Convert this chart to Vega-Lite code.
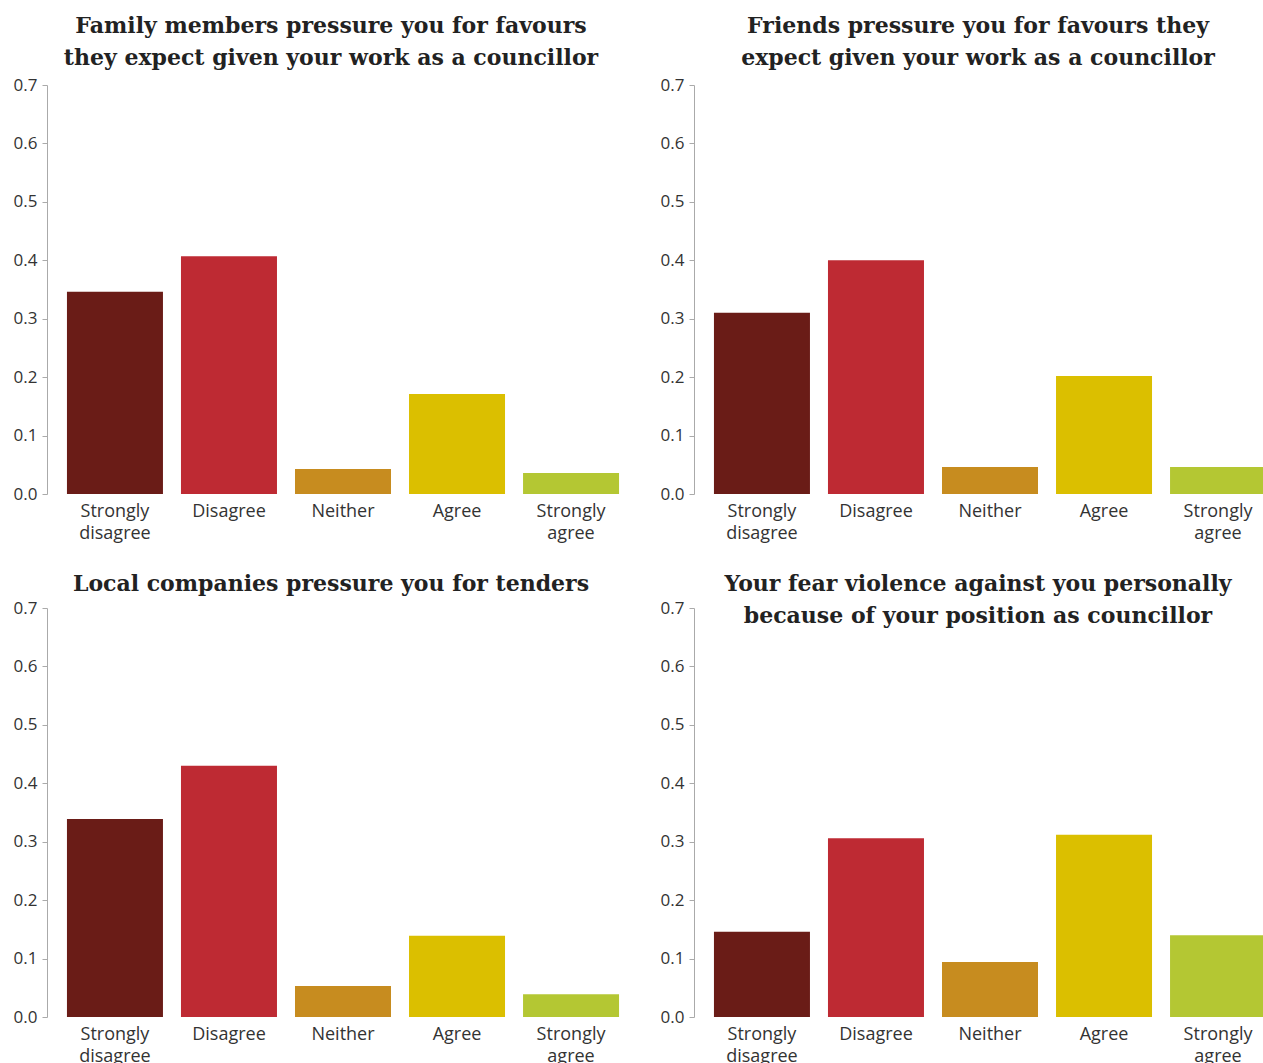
{
  "$schema": "https://vega.github.io/schema/vega-lite/v6.json",
  "padding": {"left": 13, "top": 15, "right": 0, "bottom": 0},
  "background": "white",
  "datasets": {
    "d": [
      {"q": "family", "resp": "Strongly disagree", "share": 0.346},
      {"q": "family", "resp": "Disagree", "share": 0.407},
      {"q": "family", "resp": "Neither", "share": 0.043},
      {"q": "family", "resp": "Agree", "share": 0.171},
      {"q": "family", "resp": "Strongly agree", "share": 0.036},
      {"q": "friends", "resp": "Strongly disagree", "share": 0.31},
      {"q": "friends", "resp": "Disagree", "share": 0.4},
      {"q": "friends", "resp": "Neither", "share": 0.046},
      {"q": "friends", "resp": "Agree", "share": 0.202},
      {"q": "friends", "resp": "Strongly agree", "share": 0.046},
      {"q": "companies", "resp": "Strongly disagree", "share": 0.339},
      {"q": "companies", "resp": "Disagree", "share": 0.43},
      {"q": "companies", "resp": "Neither", "share": 0.053},
      {"q": "companies", "resp": "Agree", "share": 0.139},
      {"q": "companies", "resp": "Strongly agree", "share": 0.039},
      {"q": "violence", "resp": "Strongly disagree", "share": 0.146},
      {"q": "violence", "resp": "Disagree", "share": 0.306},
      {"q": "violence", "resp": "Neither", "share": 0.094},
      {"q": "violence", "resp": "Agree", "share": 0.312},
      {"q": "violence", "resp": "Strongly agree", "share": 0.14}
    ]
  },
  "config": {
    "view": {"stroke": null},
    "title": {"font": "DejaVu Serif", "fontWeight": "bold", "fontSize": 22, "color": "#222222", "lineHeight": 32, "anchor": "middle", "dx": -12},
    "axisY": {"labelFont": "Open Sans", "labelFontSize": 17, "labelColor": "#333333", "domainColor": "#aaaaaa", "tickColor": "#aaaaaa", "tickSize": 5, "labelPadding": 5, "grid": false, "title": null},
    "axisX": {"labelFont": "Open Sans", "labelFontSize": 18, "labelColor": "#333333", "domain": false, "ticks": false, "labelPadding": 8, "labelAngle": 0, "title": null, "labelLineHeight": 22}
  },
  "spacing": 31,
  "vconcat": [
    {
      "spacing": 21,
      "hconcat": [
        {
          "title": {"text": ["Family members pressure you for favours", "they expect given your work as a councillor"], "offset": 6},
          "width": 592, "height": 409,
          "data": {"name": "d"},
          "transform": [{"filter": "datum.q == 'family'"}],
          "mark": "bar",
          "encoding": {
            "x": {"field": "resp", "type": "nominal", "sort": ["Strongly disagree", "Disagree", "Neither", "Agree", "Strongly agree"], "scale": {"paddingInner": 0.158, "paddingOuter": 0.175}, "axis": {"labelExpr": "split(datum.label, ' ')"}},
            "y": {"field": "share", "type": "quantitative", "scale": {"domain": [0, 0.7]}, "axis": {"values": [0, 0.1, 0.2, 0.3, 0.4, 0.5, 0.6, 0.7], "format": ".1f"}},
            "color": {"field": "resp", "type": "nominal", "legend": null, "scale": {"domain": ["Strongly disagree", "Disagree", "Neither", "Agree", "Strongly agree"], "range": ["#6a1c17", "#be2a33", "#c78c1f", "#dbbf00", "#b4c733"]}}
          }
        },
        {
          "title": {"text": ["Friends pressure you for favours they", "expect given your work as a councillor"], "offset": 6},
          "width": 592, "height": 409,
          "data": {"name": "d"},
          "transform": [{"filter": "datum.q == 'friends'"}],
          "mark": "bar",
          "encoding": {
            "x": {"field": "resp", "type": "nominal", "sort": ["Strongly disagree", "Disagree", "Neither", "Agree", "Strongly agree"], "scale": {"paddingInner": 0.158, "paddingOuter": 0.175}, "axis": {"labelExpr": "split(datum.label, ' ')"}},
            "y": {"field": "share", "type": "quantitative", "scale": {"domain": [0, 0.7]}, "axis": {"values": [0, 0.1, 0.2, 0.3, 0.4, 0.5, 0.6, 0.7], "format": ".1f"}},
            "color": {"field": "resp", "type": "nominal", "legend": null, "scale": {"domain": ["Strongly disagree", "Disagree", "Neither", "Agree", "Strongly agree"], "range": ["#6a1c17", "#be2a33", "#c78c1f", "#dbbf00", "#b4c733"]}}
          }
        }
      ]
    },
    {
      "spacing": 21,
      "hconcat": [
        {
          "title": {"text": ["Local companies pressure you for tenders", " "], "offset": -29},
          "width": 592, "height": 409,
          "data": {"name": "d"},
          "transform": [{"filter": "datum.q == 'companies'"}],
          "mark": "bar",
          "encoding": {
            "x": {"field": "resp", "type": "nominal", "sort": ["Strongly disagree", "Disagree", "Neither", "Agree", "Strongly agree"], "scale": {"paddingInner": 0.158, "paddingOuter": 0.175}, "axis": {"labelExpr": "split(datum.label, ' ')"}},
            "y": {"field": "share", "type": "quantitative", "scale": {"domain": [0, 0.7]}, "axis": {"values": [0, 0.1, 0.2, 0.3, 0.4, 0.5, 0.6, 0.7], "format": ".1f"}},
            "color": {"field": "resp", "type": "nominal", "legend": null, "scale": {"domain": ["Strongly disagree", "Disagree", "Neither", "Agree", "Strongly agree"], "range": ["#6a1c17", "#be2a33", "#c78c1f", "#dbbf00", "#b4c733"]}}
          }
        },
        {
          "title": {"text": ["Your fear violence against you personally", "because of your position as councillor"], "offset": -29},
          "width": 592, "height": 409,
          "data": {"name": "d"},
          "transform": [{"filter": "datum.q == 'violence'"}],
          "mark": "bar",
          "encoding": {
            "x": {"field": "resp", "type": "nominal", "sort": ["Strongly disagree", "Disagree", "Neither", "Agree", "Strongly agree"], "scale": {"paddingInner": 0.158, "paddingOuter": 0.175}, "axis": {"labelExpr": "split(datum.label, ' ')"}},
            "y": {"field": "share", "type": "quantitative", "scale": {"domain": [0, 0.7]}, "axis": {"values": [0, 0.1, 0.2, 0.3, 0.4, 0.5, 0.6, 0.7], "format": ".1f"}},
            "color": {"field": "resp", "type": "nominal", "legend": null, "scale": {"domain": ["Strongly disagree", "Disagree", "Neither", "Agree", "Strongly agree"], "range": ["#6a1c17", "#be2a33", "#c78c1f", "#dbbf00", "#b4c733"]}}
          }
        }
      ]
    }
  ]
}
